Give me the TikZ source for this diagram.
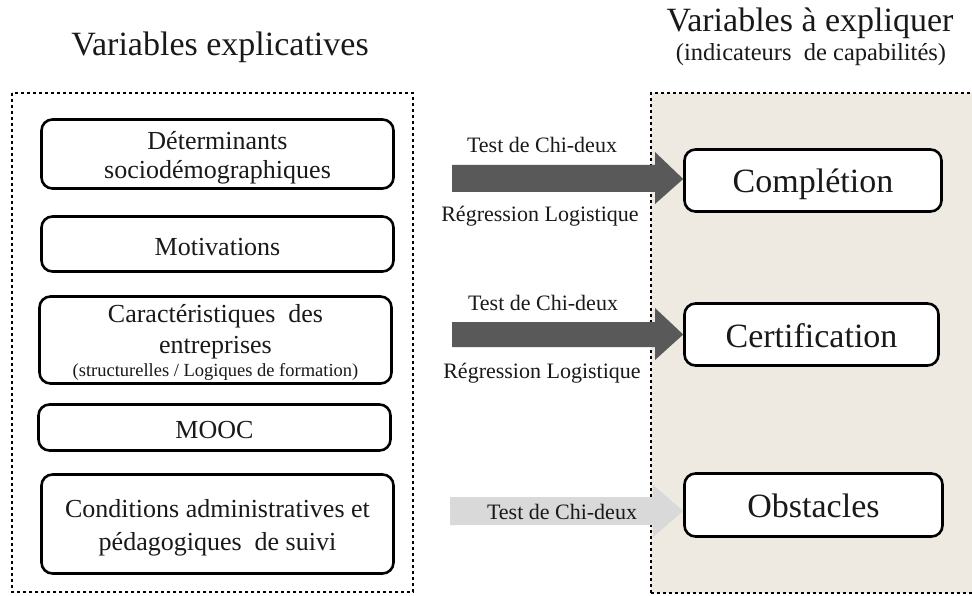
\documentclass[tikz,border=0pt]{standalone}
\usepackage{fontspec}
\setmainfont{Liberation Serif}
\definecolor{beige}{RGB}{238,234,225}
\definecolor{darkarr}{RGB}{89,89,89}
\definecolor{lightarr}{RGB}{217,217,217}
\definecolor{txt}{RGB}{25,25,25}
\begin{document}
\begin{tikzpicture}[x=1pt,y=-1pt,
  dotline/.style={line width=2.6pt, dash pattern=on 2.6pt off 3.4pt},
  varbox/.style={draw, line width=2.6pt, rounded corners=11pt, fill=white, inner sep=0pt},
  lbl/.style={anchor=base, inner sep=0pt, text=txt},
  boxtxt/.style={lbl, font=\fontsize{26}{30}\selectfont},
  bigtxt/.style={lbl, font=\fontsize{34}{40}\selectfont},
  arrtxt/.style={lbl, font=\fontsize{22}{26}\selectfont},
  title/.style={lbl, font=\fontsize{34}{40}\selectfont},
]
\useasboundingbox (0,0) rectangle (972,596);
\fill[white] (0,0) rectangle (972,596);
% right panel
\fill[beige] (651,93) rectangle (985,593);
\draw[dotline] (651,593) -- (651,93) -- (990,93);
\draw[dotline] (651,593) -- (990,593);
% left panel
\draw[dotline] (12,93) rectangle (413,592);

% titles
\node[title] (t1) at (220,56) {Variables explicatives};
\node[title] (t2) at (810,32) {Variables à expliquer};
\node[lbl, font=\fontsize{24.5}{30}\selectfont] (t3) at (811,61) {(indicateurs\ \ de capabilités)};

% left boxes
\node[varbox, minimum width=352pt, minimum height=69pt] (b1) at (217.5,154) {};
\node[boxtxt] (b1a) at (b1.center |- 0,150) {Déterminants};
\node[boxtxt] (b1b) at (b1.center |- 0,179) {sociodémographiques};

\node[varbox, minimum width=352pt, minimum height=55pt] (b2) at (217.5,244) {};
\node[boxtxt] (b2a) at (b2.center |- 0,255) {Motivations};

\node[varbox, minimum width=352pt, minimum height=87pt] (b3) at (215.5,340) {};
\node[boxtxt] (b3a) at (b3.center |- 0,322) {Caractéristiques\ \ des};
\node[boxtxt] (b3b) at (b3.center |- 0,353) {entreprises};
\node[lbl, font=\fontsize{18.5}{22}\selectfont] (b3c) at (b3.center |- 0,376) {(structurelles / Logiques de formation)};

\node[varbox, minimum width=352pt, minimum height=46pt] (b4) at (214.5,427.5) {};
\node[boxtxt] (b4a) at (b4.center |- 0,438) {MOOC};

\node[varbox, minimum width=352pt, minimum height=99pt] (b5) at (217.5,524) {};
\node[boxtxt] (b5a) at (b5.center |- 0,517) {Conditions administratives et};
\node[boxtxt] (b5b) at (b5.center |- 0,550) {pédagogiques\ \ de suivi};

% right boxes
\node[varbox, minimum width=257pt, minimum height=62pt] (c1) at (813,180.5) {};
\node[bigtxt] (c1a) at (c1.center |- 0,193) {Complétion};
\node[varbox, minimum width=254pt, minimum height=62pt] (c2) at (811.5,334.5) {};
\node[bigtxt] (c2a) at (c2.center |- 0,347) {Certification};
\node[varbox, minimum width=258pt, minimum height=63pt] (c3) at (813.5,505) {};
\node[bigtxt] (c3a) at (c3.center |- 0,517) {Obstacles};

% arrows
\coordinate (y1) at (0,179);
\coordinate (y2) at (0,334.5);
\coordinate (y3) at (0,511);
\fill[darkarr] (452,165) -- (655,165) -- (655,152) -- (c1.west |- y1) -- (655,204) -- (655,192) -- (452,192) -- cycle;
\fill[darkarr] (452,322) -- (655,322) -- (655,308) -- (c2.west |- y2) -- (655,360) -- (655,347) -- (452,347) -- cycle;
\fill[lightarr] (450,497) -- (653,497) -- (653,485) -- (c3.west |- y3) -- (653,537) -- (653,525) -- (450,525) -- cycle;

% arrow labels
\node[arrtxt] (a1) at (542,153) {Test\ de Chi-deux};
\node[arrtxt] (a2) at (540,222) {Régression Logistique};
\node[arrtxt] (a3) at (543,310) {Test\ de Chi-deux};
\node[arrtxt] (a4) at (542,378) {Régression Logistique};
\node[arrtxt] (a5) at (562,519) {Test de Chi-deux};
\end{tikzpicture}
\end{document}
